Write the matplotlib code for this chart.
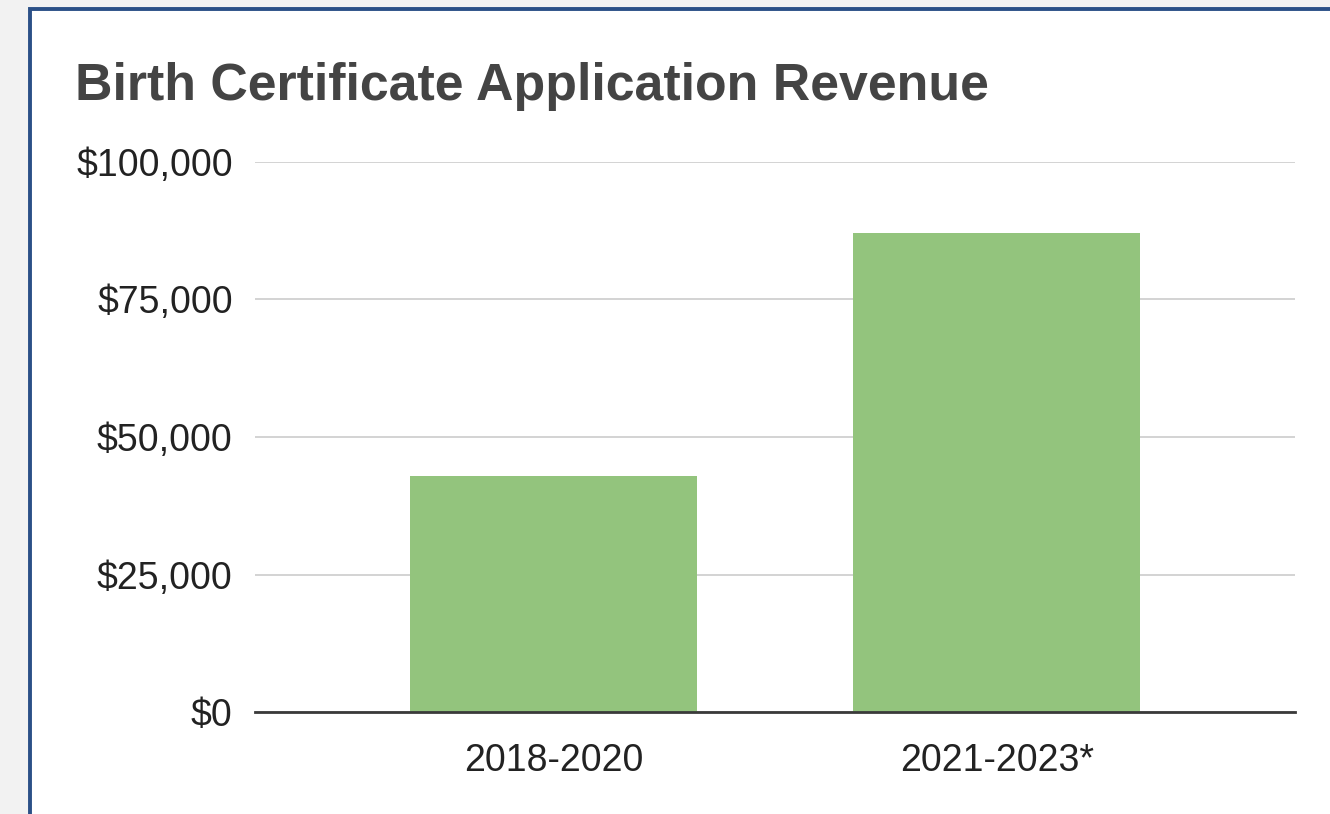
import matplotlib
matplotlib.use("Agg")
import matplotlib.pyplot as plt
from matplotlib.patches import Rectangle
from matplotlib.ticker import FuncFormatter

# data
periods = ["2018-2020", "2021-2023*"]
revenue = [43000, 87000]
yticks = [0, 25000, 50000, 75000, 100000]

W, H = 1330, 814
plt.rcParams["font.family"] = ["Liberation Sans", "DejaVu Sans"]

fig = plt.figure(figsize=(W / 100, H / 100), dpi=100)
fig.patch.set_facecolor("#f2f2f2")

# white panel with blue border (drawn behind the axes)
panel = Rectangle((30 / W, -0.05), 1.1, 1 - 9 / H + 0.05, transform=fig.transFigure,
                  facecolor="white", edgecolor="#2b5087", linewidth=2.8, zorder=-10)
fig.patches.append(panel)

ax = fig.add_axes([255 / W, (H - 712) / H, (1295 - 255) / W, (712 - 162) / H])
ax.set_facecolor("none")
ax.set_zorder(1)

x = range(len(periods))
ax.bar(x, revenue, width=0.646, color="#93c47d", zorder=2)
ax.set_xlim(-0.673, 1.673)
ax.set_ylim(0, 100000)
ax.set_yticks(yticks)
ax.yaxis.set_major_formatter(FuncFormatter(lambda v, p: f"${v:,.0f}"))
ax.set_xticks(list(x))
ax.set_xticklabels(periods)

ax.grid(axis="y", color="#cccccc", linewidth=1.2, zorder=0)
ax.axhline(0, color="#3a3a3a", linewidth=2.0, zorder=3, clip_on=False)
for s in ax.spines.values():
    s.set_visible(False)
ax.tick_params(axis="both", length=0, labelsize=27, colors="#222222")
ax.tick_params(axis="y", pad=16)
ax.tick_params(axis="x", pad=22)

fig.text(75 / W, 1 - 100 / H, "Birth Certificate Application Revenue",
         fontsize=37.4, fontweight="bold", color="#444444", va="baseline", ha="left")

fig.savefig("out.png", dpi=100, facecolor=fig.get_facecolor())
